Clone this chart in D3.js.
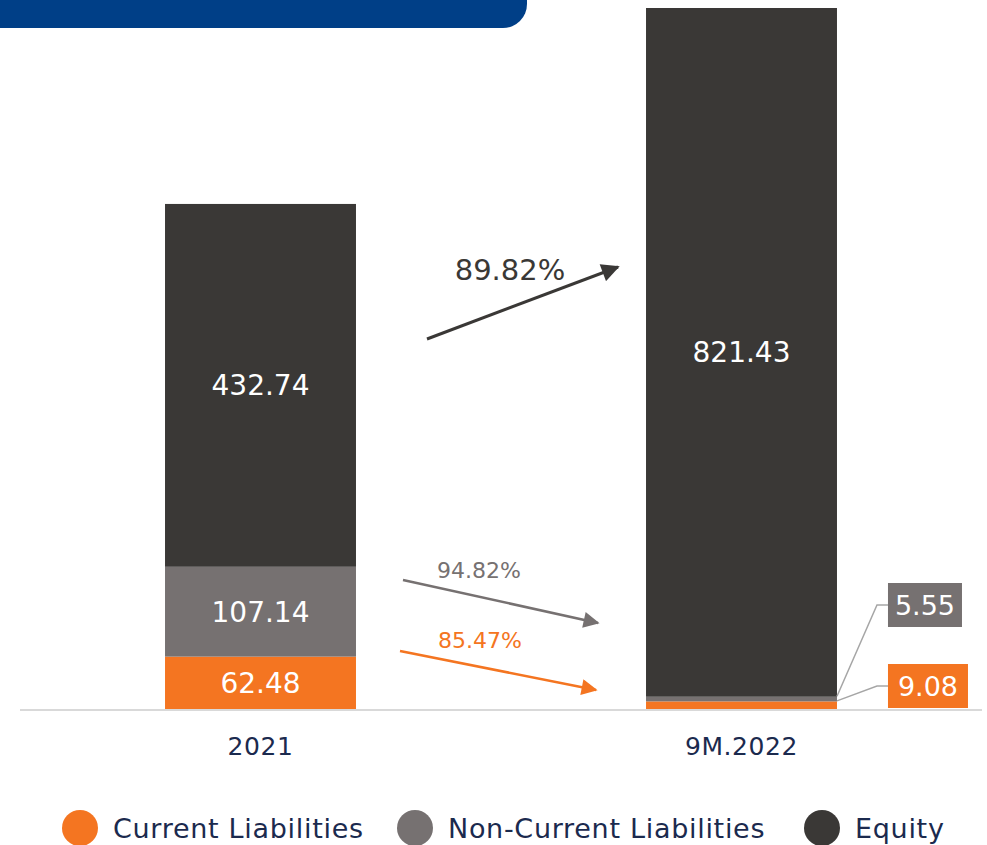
<!DOCTYPE html>
<html>
<head>
<meta charset="utf-8">
<script src="https://cdn.jsdelivr.net/npm/d3@7"></script>
<style>
  body { margin: 0; background: #fff; }
  svg { display: block; font-family: "DejaVu Sans", Inter, sans-serif; }
</style>
</head>
<body>
<svg id="chart" width="987" height="845"></svg>
<script>
// data
var categories = ["2021", "9M.2022"];
var currentLiab = [62.48, 9.08];
var nonCurrentLiab = [107.14, 5.55];
var equity = [432.74, 821.43];
var seriesNames = ["Current Liabilities", "Non-Current Liabilities", "Equity"];
var growth = ["85.47%", "94.82%", "89.82%"];

var colors = ["#F47521", "#767171", "#3A3836"];
var navy = "#1B2A4E";

var svg = d3.select("#chart");

// banner
svg.append("path")
  .attr("d", "M0,0 H527 V4 A24,24 0 0 1 503,28 H0 Z")
  .attr("fill", "#003F87");

var rows = categories.map((c, i) => ({cat: c, cur: currentLiab[i], ncur: nonCurrentLiab[i], eq: equity[i]}));
var keys = ["cur", "ncur", "eq"];
var stacked = d3.stack().keys(keys)(rows);

var x = d3.scaleBand().domain(categories).range([20, 982]).paddingInner(0.603).paddingOuter(0.3015);
var y = d3.scaleLinear()
  .domain([0, d3.max(rows, d => d.cur + d.ncur + d.eq)])
  .range([709, 8]);

// bars
var layer = svg.selectAll("g.layer").data(stacked).join("g")
  .attr("class", "layer")
  .attr("fill", (d, i) => colors[i]);

layer.selectAll("rect").data(d => d).join("rect")
  .attr("x", d => x(d.data.cat))
  .attr("y", d => y(d[1]))
  .attr("width", x.bandwidth())
  .attr("height", d => y(d[0]) - y(d[1]));

// baseline
svg.append("line")
  .attr("x1", 20).attr("x2", 982)
  .attr("y1", 710).attr("y2", 710)
  .attr("stroke", "#d9d9d9").attr("stroke-width", 2);

// labels inside bars (large segments)
stacked.forEach((s, si) => {
  s.forEach(d => {
    var v = d[1] - d[0];
    var h = y(d[0]) - y(d[1]);
    if (h < 30) return;
    svg.append("text")
      .attr("x", x(d.data.cat) + x.bandwidth() / 2)
      .attr("y", (y(d[0]) + y(d[1])) / 2)
      .attr("dy", "0.36em")
      .attr("text-anchor", "middle")
      .attr("fill", "#fff")
      .attr("font-size", 28)
      .text(v.toFixed(2));
  });
});

// callouts for small segments of 9M.2022
var c2 = categories[1];
var right = x(c2) + x.bandwidth();
var callouts = [
  {si: 1, boxTop: 583, boxW: 74},
  {si: 0, boxTop: 664, boxW: 80}
];
callouts.forEach(c => {
  var d = stacked[c.si][1];
  var v = d[1] - d[0];
  var midBox = c.boxTop + 22;
  svg.append("polyline")
    .attr("points", [[right, y(d[1]) - 0.5], [right + 40, midBox], [right + 51, midBox]].join(" "))
    .attr("fill", "none")
    .attr("stroke", "#a6a6a6")
    .attr("stroke-width", 1.5);
  svg.append("rect")
    .attr("x", right + 51).attr("y", c.boxTop)
    .attr("width", c.boxW).attr("height", 44)
    .attr("fill", colors[c.si]);
  svg.append("text")
    .attr("x", right + 51 + c.boxW / 2)
    .attr("y", midBox)
    .attr("dy", "0.36em")
    .attr("text-anchor", "middle")
    .attr("fill", "#fff")
    .attr("font-size", 27)
    .text(v.toFixed(2));
});

// axis labels
svg.selectAll("text.cat").data(categories).join("text")
  .attr("class", "cat")
  .attr("x", d => x(d) + x.bandwidth() / 2)
  .attr("y", 746)
  .attr("dy", "0.36em")
  .attr("text-anchor", "middle")
  .attr("fill", navy)
  .attr("font-size", 25)
  .attr("letter-spacing", 0.6)
  .text(d => d);

// growth arrows
var defs = svg.append("defs");
function marker(id, col, w, h) {
  defs.append("marker")
    .attr("id", id)
    .attr("viewBox", "0 0 10 10")
    .attr("refX", 9).attr("refY", 5)
    .attr("markerUnits", "userSpaceOnUse")
    .attr("markerWidth", w).attr("markerHeight", h)
    .attr("orient", "auto")
    .append("path").attr("d", "M0,0 L10,5 L0,10 Z").attr("fill", col);
}
marker("mOrange", colors[0], 18, 16);
marker("mGrey", colors[1], 18, 16);
marker("mDark", colors[2], 20, 18);

var arrows = [
  {x1: 400, y1: 651, x2: 596, y2: 690, col: colors[0], m: "mOrange", w: 2.5, tx: 480, ty: 640, fs: 22},
  {x1: 403, y1: 580, x2: 598, y2: 623, col: colors[1], m: "mGrey", w: 2.5, tx: 479, ty: 570, fs: 22},
  {x1: 427, y1: 339, x2: 618, y2: 267, col: colors[2], m: "mDark", w: 3, tx: 510, ty: 270, fs: 29}
];
arrows.forEach((a, i) => {
  svg.append("line")
    .attr("x1", a.x1).attr("y1", a.y1)
    .attr("x2", a.x2).attr("y2", a.y2)
    .attr("stroke", a.col).attr("stroke-width", a.w)
    .attr("marker-end", "url(#" + a.m + ")");
  svg.append("text")
    .attr("x", a.tx).attr("y", a.ty)
    .attr("dy", "0.36em")
    .attr("text-anchor", "middle")
    .attr("fill", a.col)
    .attr("font-size", a.fs)
    .text(growth[i]);
});

// legend
var legX = [80, 415, 822];
var leg = svg.selectAll("g.leg").data(seriesNames).join("g")
  .attr("class", "leg")
  .attr("transform", (d, i) => `translate(${legX[i]},828)`);
leg.append("circle").attr("r", 18).attr("fill", (d, i) => colors[i]);
leg.append("text")
  .attr("x", 33)
  .attr("dy", "0.36em")
  .attr("fill", navy)
  .attr("font-size", 27)
  .attr("letter-spacing", 0.7)
  .text(d => d);
</script>
</body>
</html>
